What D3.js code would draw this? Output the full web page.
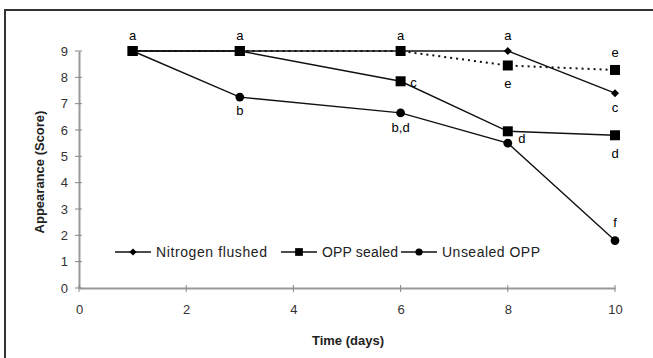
<!DOCTYPE html>
<html lang="en">
<head>
    <meta charset="UTF-8">
    <title>Appearance score over time</title>
    <script src="https://d3js.org/d3.v7.min.js"></script>
    <style>
        html, body {
            margin: 0;
            background: #fff;
            font-family: "Liberation Sans", Arial, sans-serif;
        }
    </style>
</head>
<body>
<div id="vis"></div>
<script>

    // data
    var days = [1, 3, 6, 8, 10];
    var nitrogen = [9, 9, 9, 9, 7.4];
    var oppSealed = [9, 9, 7.85, 5.95, 5.8];
    var oppDotted = [9, 9, 9, 8.45, 8.28];
    var unsealed = [9, 7.25, 6.65, 5.5, 1.8];

    var xTicks = [0, 2, 4, 6, 8, 10];
    var yTicks = [0, 1, 2, 3, 4, 5, 6, 7, 8, 9];

    // significance letters: [day, value, text, dx, dy]
    var letters = [
        [1, 9, "a", 0, -16],
        [3, 9, "a", 0, -16],
        [6, 9, "a", 0, -16],
        [8, 9, "a", 0, -16],
        [3, 7.25, "b", 0, 13],
        [6, 7.85, "c", 13, 1],
        [6, 6.65, "b,d", 0, 15],
        [8, 8.45, "e", 0, 18],
        [8, 5.95, "d", 14, 7],
        [10, 8.28, "e", 0, -18],
        [10, 7.4, "c", 0, 14],
        [10, 5.8, "d", 0, 18],
        [10, 1.8, "f", 0, -18]
    ];

    var W = 653, H = 358;
    var svg = d3.select("#vis").append("svg")
        .attr("width", W)
        .attr("height", H);

    // frame (only top and left edges visible)
    svg.append("path")
        .attr("d", "M5," + H + " V10 H" + W)
        .attr("fill", "none")
        .attr("stroke", "#333")
        .attr("stroke-width", 2);

    var x = d3.scaleLinear().domain([0, 10]).range([79, 615]);
    var y = d3.scaleLinear().domain([0, 9]).range([288, 51]);

    // axes
    var xAxis = d3.axisBottom(x).tickValues(xTicks).tickSize(0).tickPadding(17);
    var yAxis = d3.axisLeft(y).tickValues(yTicks).tickSize(0).tickPadding(11);

    var gx = svg.append("g").attr("transform", "translate(0," + y(0) + ")").call(xAxis);
    var gy = svg.append("g").attr("transform", "translate(" + x(0) + ",0)").call(yAxis);

    [gx, gy].forEach(function(g) {
        g.select(".domain").attr("stroke", "#999").attr("stroke-width", 2);
        g.selectAll("text")
            .attr("font-family", "Liberation Sans, Arial, sans-serif")
            .attr("font-size", 13)
            .attr("fill", "#333");
    });

    // ticks that cross the axis
    svg.append("g").selectAll("line")
        .data(xTicks)
        .join("line")
        .attr("x1", function(d) { return x(d); })
        .attr("x2", function(d) { return x(d); })
        .attr("y1", y(0) - 3)
        .attr("y2", y(0) + 4)
        .attr("stroke", "#888")
        .attr("stroke-width", 1);

    svg.append("g").selectAll("line")
        .data(yTicks)
        .join("line")
        .attr("x1", x(0) - 4)
        .attr("x2", x(0) + 3)
        .attr("y1", function(d) { return y(d); })
        .attr("y2", function(d) { return y(d); })
        .attr("stroke", "#888")
        .attr("stroke-width", 1);

    // axis titles
    svg.append("text")
        .attr("x", 348)
        .attr("y", 345)
        .attr("text-anchor", "middle")
        .attr("font-size", 13)
        .attr("font-weight", "bold")
        .attr("fill", "#222")
        .text("Time (days)");

    svg.append("text")
        .attr("transform", "translate(44,172) rotate(-90)")
        .attr("text-anchor", "middle")
        .attr("font-size", 13)
        .attr("font-weight", "bold")
        .attr("fill", "#222")
        .text("Appearance (Score)");

    var line = d3.line()
        .x(function(d) { return x(d[0]); })
        .y(function(d) { return y(d[1]); });

    function pairs(vals) {
        return days.map(function(d, i) { return [d, vals[i]]; });
    }

    var series = [
        {vals: unsealed, marker: "circle", dash: null},
        {vals: oppSealed, marker: "square", dash: null},
        {vals: oppDotted, marker: "square", dash: "2,4"},
        {vals: nitrogen, marker: "diamond", dash: null}
    ];

    var symbols = {
        circle: d3.symbol().type(d3.symbolCircle).size(60),
        square: d3.symbol().type(d3.symbolSquare).size(100),
        diamond: d3.symbol().type(d3.symbolSquare).size(32)
    };
    var legendSymbols = {
        circle: d3.symbol().type(d3.symbolCircle).size(40),
        square: d3.symbol().type(d3.symbolSquare).size(60),
        diamond: d3.symbol().type(d3.symbolSquare).size(26)
    };
    var rot = {circle: 0, square: 0, diamond: 45};

    series.forEach(function(s) {
        svg.append("path")
            .datum(pairs(s.vals))
            .attr("d", line)
            .attr("fill", "none")
            .attr("stroke", "#111")
            .attr("stroke-width", s.dash ? 2 : 1.4)
            .attr("stroke-dasharray", s.dash);

        svg.append("g").selectAll("path")
            .data(pairs(s.vals))
            .join("path")
            .attr("transform", function(d) {
                return "translate(" + x(d[0]) + "," + y(d[1]) + ") rotate(" + rot[s.marker] + ")";
            })
            .attr("d", symbols[s.marker])
            .attr("fill", "#000");
    });

    // letters
    svg.append("g").selectAll("text")
        .data(letters)
        .join("text")
        .attr("x", function(d) { return x(d[0]) + d[3]; })
        .attr("y", function(d) { return y(d[1]) + d[4]; })
        .attr("dy", "0.35em")
        .attr("text-anchor", "middle")
        .attr("font-size", 13)
        .attr("fill", "#000")
        .text(function(d) { return d[2]; });

    // legend
    var legendItems = [
        {name: "Nitrogen flushed", marker: "diamond", x0: 115, w: 111},
        {name: "OPP sealed", marker: "square", x0: 281, w: 76},
        {name: "Unsealed OPP", marker: "circle", x0: 401, w: 98}
    ];
    var ly = 252;
    var leg = svg.append("g").selectAll("g")
        .data(legendItems)
        .join("g")
        .attr("transform", function(d) { return "translate(" + d.x0 + "," + ly + ")"; });

    leg.append("line")
        .attr("x1", 0).attr("x2", 36)
        .attr("stroke", "#111").attr("stroke-width", 1.4);
    leg.append("path")
        .attr("transform", function(d) { return "translate(18,0) rotate(" + rot[d.marker] + ")"; })
        .attr("d", function(d) { return legendSymbols[d.marker](); })
        .attr("fill", "#000");
    leg.append("text")
        .attr("x", 41)
        .attr("dy", "0.35em")
        .attr("font-size", 14)
        .attr("textLength", function(d) { return d.w; })
        .attr("fill", "#222")
        .text(function(d) { return d.name; });

</script>
</body>
</html>
